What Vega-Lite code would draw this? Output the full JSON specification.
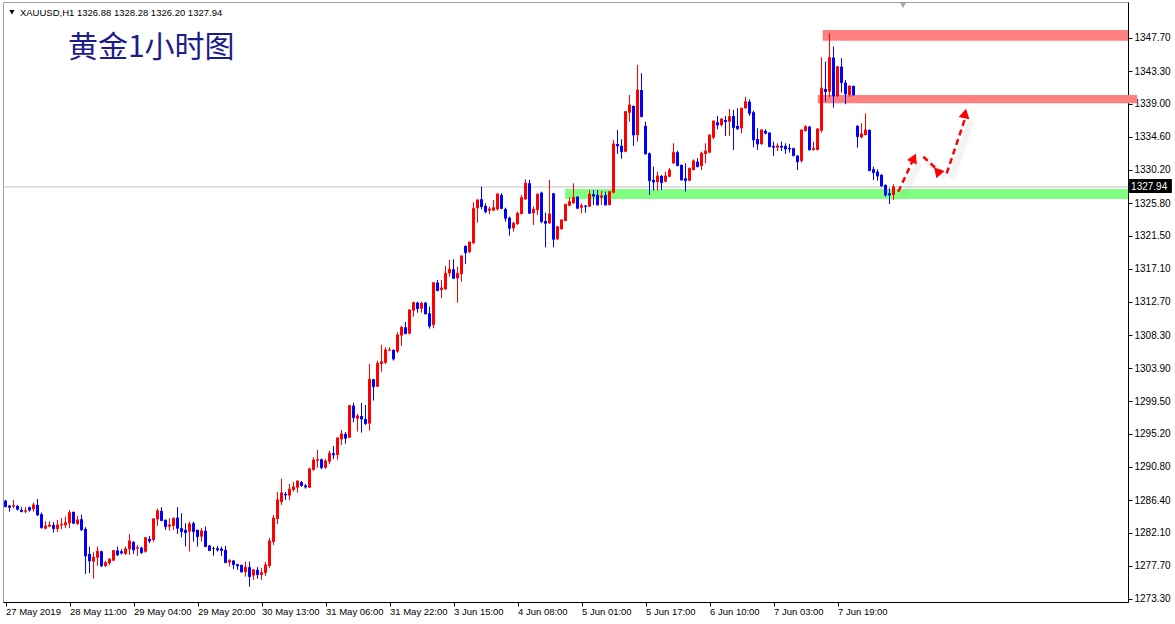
{
"$schema": "https://vega.github.io/schema/vega-lite/v6.json",
"width": 1125, "height": 600,
"autosize": {"type": "none"},
"padding": {"left": 3, "top": 2, "right": 47, "bottom": 22},
"background": "#ffffff",
"config": {"view": {"stroke": "#a0a0a0", "strokeWidth": 1}, "scale": {"continuousPadding": 0}, "axis": {"labelFont": "Liberation Sans", "labelColor": "#000000", "domainColor": "#000000", "tickColor": "#000000", "grid": false, "labelOverlap": false, "labelFlush": false}},
"datasets": {
"zones": [
{"kind": "r", "i1": 204.3, "i2": 280.625, "p1": 1347.34, "p2": 1348.76},
{"kind": "r", "i1": 203.05, "i2": 282.9, "p1": 1339.04, "p2": 1340.14},
{"kind": "g", "i1": 139.9, "i2": 280.625, "p1": 1326.34, "p2": 1327.67}
],
"arrows": [
{"seg": 1, "pt": "start", "i": 223.2, "p": 1327.31}, {"seg": 1, "pt": "end", "i": 227.1, "p": 1331.78},
{"seg": 2, "pt": "start", "i": 229.45, "p": 1331.95}, {"seg": 2, "pt": "end", "i": 233.6, "p": 1329.92},
{"seg": 3, "pt": "start", "i": 235.3, "p": 1329.75}, {"seg": 3, "pt": "end", "i": 240.1, "p": 1337.35}
],
"candles": [
{"i":0,"o":1286.34,"h":1286.43,"l":1285.46,"c":1285.54},
{"i":1,"o":1285.67,"h":1285.77,"l":1284.88,"c":1285.46},
{"i":2,"o":1285.54,"h":1286.43,"l":1285.33,"c":1285.67},
{"i":3,"o":1285.63,"h":1285.77,"l":1285.01,"c":1285.20},
{"i":4,"o":1285.10,"h":1285.46,"l":1284.80,"c":1284.88},
{"i":5,"o":1284.88,"h":1285.46,"l":1284.67,"c":1285.01},
{"i":6,"o":1285.46,"h":1285.54,"l":1284.88,"c":1285.10},
{"i":7,"o":1285.20,"h":1286.07,"l":1284.88,"c":1285.77},
{"i":8,"o":1285.77,"h":1286.56,"l":1284.31,"c":1284.44},
{"i":9,"o":1284.53,"h":1284.75,"l":1282.62,"c":1282.76},
{"i":10,"o":1282.62,"h":1283.61,"l":1282.54,"c":1282.98},
{"i":11,"o":1282.89,"h":1283.61,"l":1282.81,"c":1283.11},
{"i":12,"o":1283.11,"h":1283.48,"l":1282.09,"c":1282.62},
{"i":13,"o":1282.58,"h":1283.78,"l":1282.19,"c":1283.11},
{"i":14,"o":1283.07,"h":1284.00,"l":1282.54,"c":1283.21},
{"i":15,"o":1283.07,"h":1284.22,"l":1282.68,"c":1283.42},
{"i":16,"o":1283.34,"h":1285.10,"l":1282.68,"c":1284.75},
{"i":17,"o":1284.84,"h":1284.90,"l":1283.25,"c":1283.34},
{"i":18,"o":1283.25,"h":1284.31,"l":1283.11,"c":1283.78},
{"i":19,"o":1283.87,"h":1284.48,"l":1282.32,"c":1282.45},
{"i":20,"o":1282.58,"h":1282.81,"l":1276.62,"c":1279.00},
{"i":21,"o":1279.27,"h":1280.24,"l":1276.71,"c":1278.34},
{"i":22,"o":1278.25,"h":1279.49,"l":1275.99,"c":1278.83},
{"i":23,"o":1278.78,"h":1280.24,"l":1277.68,"c":1279.62},
{"i":24,"o":1279.62,"h":1279.70,"l":1277.51,"c":1277.68},
{"i":25,"o":1277.68,"h":1278.38,"l":1277.51,"c":1278.12},
{"i":26,"o":1278.04,"h":1278.70,"l":1277.81,"c":1278.57},
{"i":27,"o":1278.38,"h":1279.76,"l":1278.34,"c":1279.72},
{"i":28,"o":1279.72,"h":1280.24,"l":1279.00,"c":1279.14},
{"i":29,"o":1279.62,"h":1279.89,"l":1279.18,"c":1279.40},
{"i":30,"o":1279.27,"h":1280.24,"l":1279.14,"c":1279.93},
{"i":31,"o":1279.89,"h":1281.92,"l":1279.14,"c":1280.99},
{"i":32,"o":1280.86,"h":1280.95,"l":1279.27,"c":1279.80},
{"i":33,"o":1279.97,"h":1280.46,"l":1279.00,"c":1280.10},
{"i":34,"o":1280.10,"h":1280.24,"l":1279.27,"c":1279.44},
{"i":35,"o":1279.57,"h":1281.48,"l":1279.44,"c":1281.43},
{"i":36,"o":1281.26,"h":1281.66,"l":1280.69,"c":1280.99},
{"i":37,"o":1281.12,"h":1284.00,"l":1280.90,"c":1283.91},
{"i":38,"o":1283.87,"h":1285.28,"l":1282.98,"c":1284.97},
{"i":39,"o":1284.97,"h":1285.46,"l":1283.61,"c":1283.69},
{"i":40,"o":1283.78,"h":1283.85,"l":1282.45,"c":1282.89},
{"i":41,"o":1282.89,"h":1284.00,"l":1282.36,"c":1283.11},
{"i":42,"o":1282.98,"h":1284.08,"l":1282.45,"c":1284.00},
{"i":43,"o":1284.08,"h":1285.46,"l":1281.92,"c":1282.68},
{"i":44,"o":1282.68,"h":1284.67,"l":1281.48,"c":1282.23},
{"i":45,"o":1282.45,"h":1283.34,"l":1280.24,"c":1282.09},
{"i":46,"o":1282.23,"h":1283.56,"l":1279.57,"c":1283.25},
{"i":47,"o":1283.34,"h":1283.56,"l":1280.90,"c":1282.23},
{"i":48,"o":1282.45,"h":1282.50,"l":1280.24,"c":1281.56},
{"i":49,"o":1281.56,"h":1282.68,"l":1280.90,"c":1282.32},
{"i":50,"o":1282.32,"h":1282.89,"l":1280.16,"c":1280.24},
{"i":51,"o":1280.37,"h":1280.46,"l":1279.67,"c":1279.71},
{"i":52,"o":1279.97,"h":1280.24,"l":1279.04,"c":1279.97},
{"i":53,"o":1280.02,"h":1280.33,"l":1279.57,"c":1279.80},
{"i":54,"o":1279.97,"h":1280.24,"l":1279.00,"c":1279.71},
{"i":55,"o":1279.80,"h":1280.33,"l":1278.05,"c":1278.12},
{"i":56,"o":1278.12,"h":1278.57,"l":1277.59,"c":1278.38},
{"i":57,"o":1278.38,"h":1278.47,"l":1277.25,"c":1277.85},
{"i":58,"o":1277.91,"h":1277.95,"l":1277.15,"c":1277.68},
{"i":59,"o":1277.81,"h":1277.85,"l":1276.79,"c":1276.88},
{"i":60,"o":1276.88,"h":1278.25,"l":1276.26,"c":1277.51},
{"i":61,"o":1277.51,"h":1278.25,"l":1274.93,"c":1276.26},
{"i":62,"o":1276.40,"h":1277.25,"l":1275.82,"c":1277.15},
{"i":63,"o":1277.15,"h":1277.51,"l":1275.99,"c":1276.53},
{"i":64,"o":1276.48,"h":1277.38,"l":1275.82,"c":1276.79},
{"i":65,"o":1276.75,"h":1278.21,"l":1276.35,"c":1277.81},
{"i":66,"o":1277.68,"h":1281.39,"l":1277.41,"c":1280.99},
{"i":67,"o":1280.86,"h":1284.44,"l":1280.46,"c":1284.04},
{"i":68,"o":1283.91,"h":1287.49,"l":1283.25,"c":1286.43},
{"i":69,"o":1286.16,"h":1289.25,"l":1285.77,"c":1287.36},
{"i":70,"o":1287.22,"h":1287.49,"l":1286.43,"c":1287.09},
{"i":71,"o":1287.00,"h":1288.55,"l":1286.43,"c":1287.85},
{"i":72,"o":1287.76,"h":1288.82,"l":1287.53,"c":1288.15},
{"i":73,"o":1288.06,"h":1288.99,"l":1287.40,"c":1288.95},
{"i":74,"o":1288.78,"h":1288.95,"l":1288.19,"c":1288.33},
{"i":75,"o":1288.33,"h":1288.55,"l":1287.93,"c":1288.15},
{"i":76,"o":1288.06,"h":1290.71,"l":1288.02,"c":1290.54},
{"i":77,"o":1290.41,"h":1292.09,"l":1290.31,"c":1291.73},
{"i":78,"o":1291.64,"h":1293.06,"l":1290.71,"c":1291.77},
{"i":79,"o":1291.82,"h":1291.90,"l":1290.50,"c":1290.71},
{"i":80,"o":1290.71,"h":1291.82,"l":1290.54,"c":1291.60},
{"i":81,"o":1291.51,"h":1292.97,"l":1291.16,"c":1292.62},
{"i":82,"o":1292.62,"h":1293.59,"l":1291.82,"c":1292.40},
{"i":83,"o":1292.40,"h":1294.70,"l":1291.77,"c":1294.65},
{"i":84,"o":1294.48,"h":1295.71,"l":1293.72,"c":1295.18},
{"i":85,"o":1295.18,"h":1295.45,"l":1293.89,"c":1294.61},
{"i":86,"o":1294.69,"h":1299.03,"l":1294.65,"c":1298.93},
{"i":87,"o":1298.93,"h":1299.33,"l":1296.73,"c":1297.34},
{"i":88,"o":1297.21,"h":1297.83,"l":1295.49,"c":1297.57},
{"i":89,"o":1297.57,"h":1299.29,"l":1295.35,"c":1297.17},
{"i":90,"o":1297.17,"h":1299.03,"l":1296.38,"c":1296.55},
{"i":91,"o":1296.55,"h":1304.46,"l":1295.62,"c":1302.43},
{"i":92,"o":1302.43,"h":1302.50,"l":1299.60,"c":1301.45},
{"i":93,"o":1301.45,"h":1304.90,"l":1301.40,"c":1304.56},
{"i":94,"o":1304.46,"h":1306.98,"l":1303.44,"c":1304.77},
{"i":95,"o":1304.63,"h":1306.68,"l":1304.46,"c":1306.32},
{"i":96,"o":1306.23,"h":1306.68,"l":1306.18,"c":1306.32},
{"i":97,"o":1306.32,"h":1306.40,"l":1304.90,"c":1305.13},
{"i":98,"o":1306.09,"h":1308.67,"l":1305.96,"c":1308.31},
{"i":99,"o":1308.22,"h":1309.51,"l":1306.85,"c":1309.33},
{"i":100,"o":1309.33,"h":1310.03,"l":1308.40,"c":1308.49},
{"i":101,"o":1308.49,"h":1311.70,"l":1308.40,"c":1311.63},
{"i":102,"o":1311.53,"h":1312.73,"l":1310.74,"c":1312.59},
{"i":103,"o":1312.59,"h":1312.73,"l":1311.27,"c":1311.80},
{"i":104,"o":1311.80,"h":1312.73,"l":1311.27,"c":1312.51},
{"i":105,"o":1312.59,"h":1312.69,"l":1311.05,"c":1311.10},
{"i":106,"o":1311.19,"h":1312.06,"l":1309.15,"c":1309.50},
{"i":107,"o":1309.64,"h":1315.30,"l":1309.20,"c":1315.25},
{"i":108,"o":1315.25,"h":1315.60,"l":1314.10,"c":1314.19},
{"i":109,"o":1314.28,"h":1315.60,"l":1313.18,"c":1314.54},
{"i":110,"o":1314.37,"h":1317.46,"l":1314.30,"c":1316.49},
{"i":111,"o":1316.49,"h":1318.26,"l":1316.04,"c":1317.02},
{"i":112,"o":1317.02,"h":1318.35,"l":1315.78,"c":1315.83},
{"i":113,"o":1315.83,"h":1317.37,"l":1312.59,"c":1316.49},
{"i":114,"o":1316.40,"h":1318.85,"l":1315.38,"c":1318.79},
{"i":115,"o":1320.11,"h":1320.20,"l":1317.73,"c":1319.22},
{"i":116,"o":1319.32,"h":1320.70,"l":1319.15,"c":1320.64},
{"i":117,"o":1320.47,"h":1325.91,"l":1320.40,"c":1325.11},
{"i":118,"o":1325.11,"h":1326.31,"l":1323.20,"c":1326.21},
{"i":119,"o":1326.31,"h":1327.98,"l":1324.98,"c":1325.33},
{"i":120,"o":1325.42,"h":1325.78,"l":1324.45,"c":1324.66},
{"i":121,"o":1324.80,"h":1325.33,"l":1324.32,"c":1325.02},
{"i":122,"o":1324.80,"h":1326.21,"l":1324.76,"c":1325.19},
{"i":123,"o":1324.98,"h":1327.10,"l":1324.80,"c":1327.01},
{"i":124,"o":1326.88,"h":1327.10,"l":1324.98,"c":1325.11},
{"i":125,"o":1325.02,"h":1325.19,"l":1323.34,"c":1323.79},
{"i":126,"o":1323.87,"h":1324.00,"l":1321.48,"c":1322.46},
{"i":127,"o":1322.46,"h":1323.34,"l":1322.01,"c":1323.12},
{"i":128,"o":1323.03,"h":1324.66,"l":1322.90,"c":1324.45},
{"i":129,"o":1324.36,"h":1326.88,"l":1324.30,"c":1326.52},
{"i":130,"o":1326.31,"h":1328.96,"l":1326.21,"c":1328.43},
{"i":131,"o":1328.43,"h":1328.87,"l":1324.40,"c":1324.45},
{"i":132,"o":1324.45,"h":1325.33,"l":1322.90,"c":1324.98},
{"i":133,"o":1324.89,"h":1327.10,"l":1324.23,"c":1326.97},
{"i":134,"o":1327.18,"h":1327.32,"l":1323.12,"c":1323.34},
{"i":135,"o":1323.43,"h":1324.53,"l":1319.94,"c":1323.12},
{"i":136,"o":1323.12,"h":1328.87,"l":1323.05,"c":1324.36},
{"i":137,"o":1327.10,"h":1327.15,"l":1319.94,"c":1321.00},
{"i":138,"o":1321.00,"h":1322.72,"l":1320.91,"c":1322.67},
{"i":139,"o":1322.33,"h":1323.65,"l":1322.28,"c":1323.56},
{"i":140,"o":1323.43,"h":1325.70,"l":1323.38,"c":1325.65},
{"i":141,"o":1325.46,"h":1326.57,"l":1325.40,"c":1325.99},
{"i":142,"o":1325.78,"h":1328.43,"l":1325.72,"c":1326.52},
{"i":143,"o":1326.65,"h":1326.70,"l":1325.05,"c":1325.11},
{"i":144,"o":1325.19,"h":1325.78,"l":1324.45,"c":1325.46},
{"i":145,"o":1325.46,"h":1325.55,"l":1324.53,"c":1325.33},
{"i":146,"o":1325.33,"h":1327.54,"l":1325.28,"c":1326.97},
{"i":147,"o":1326.97,"h":1327.54,"l":1325.55,"c":1326.75},
{"i":148,"o":1326.88,"h":1327.54,"l":1325.50,"c":1325.55},
{"i":149,"o":1326.52,"h":1327.41,"l":1325.55,"c":1326.75},
{"i":150,"o":1326.84,"h":1327.32,"l":1325.50,"c":1325.55},
{"i":151,"o":1325.55,"h":1327.40,"l":1325.50,"c":1327.32},
{"i":152,"o":1327.18,"h":1334.17,"l":1327.10,"c":1333.64},
{"i":153,"o":1333.64,"h":1335.50,"l":1332.32,"c":1333.38},
{"i":154,"o":1333.38,"h":1334.27,"l":1331.69,"c":1332.62},
{"i":155,"o":1332.62,"h":1338.00,"l":1332.55,"c":1337.93},
{"i":156,"o":1337.79,"h":1340.14,"l":1336.60,"c":1338.81},
{"i":157,"o":1338.68,"h":1338.75,"l":1333.38,"c":1334.83},
{"i":158,"o":1334.83,"h":1344.12,"l":1333.95,"c":1340.80},
{"i":159,"o":1340.80,"h":1343.02,"l":1337.20,"c":1337.26},
{"i":160,"o":1336.03,"h":1336.60,"l":1332.25,"c":1332.32},
{"i":161,"o":1332.41,"h":1332.50,"l":1326.88,"c":1328.77},
{"i":162,"o":1328.87,"h":1330.63,"l":1327.45,"c":1328.60},
{"i":163,"o":1328.60,"h":1329.97,"l":1327.45,"c":1329.40},
{"i":164,"o":1329.40,"h":1329.53,"l":1327.54,"c":1328.51},
{"i":165,"o":1328.64,"h":1329.97,"l":1328.58,"c":1329.40},
{"i":166,"o":1329.30,"h":1330.42,"l":1329.25,"c":1330.19},
{"i":167,"o":1331.08,"h":1333.73,"l":1331.00,"c":1332.54},
{"i":168,"o":1332.54,"h":1332.75,"l":1330.70,"c":1330.76},
{"i":169,"o":1330.86,"h":1330.92,"l":1328.80,"c":1328.87},
{"i":170,"o":1329.09,"h":1331.08,"l":1327.32,"c":1328.77},
{"i":171,"o":1328.77,"h":1330.50,"l":1328.70,"c":1330.42},
{"i":172,"o":1330.19,"h":1331.61,"l":1330.12,"c":1331.39},
{"i":173,"o":1331.29,"h":1331.75,"l":1330.55,"c":1330.63},
{"i":174,"o":1330.72,"h":1332.62,"l":1330.19,"c":1332.41},
{"i":175,"o":1332.32,"h":1333.73,"l":1331.08,"c":1332.71},
{"i":176,"o":1332.49,"h":1334.90,"l":1332.42,"c":1334.83},
{"i":177,"o":1334.48,"h":1336.75,"l":1334.27,"c":1336.69},
{"i":178,"o":1336.52,"h":1337.35,"l":1335.59,"c":1336.16},
{"i":179,"o":1336.16,"h":1337.05,"l":1335.94,"c":1336.96},
{"i":180,"o":1336.82,"h":1337.35,"l":1334.70,"c":1336.60},
{"i":181,"o":1336.60,"h":1338.28,"l":1334.70,"c":1337.26},
{"i":182,"o":1337.35,"h":1338.15,"l":1332.85,"c":1335.80},
{"i":183,"o":1336.03,"h":1338.38,"l":1335.50,"c":1335.67},
{"i":184,"o":1335.72,"h":1338.45,"l":1335.06,"c":1338.38},
{"i":185,"o":1338.38,"h":1339.91,"l":1338.30,"c":1339.25},
{"i":186,"o":1339.25,"h":1339.57,"l":1337.35,"c":1337.71},
{"i":187,"o":1337.85,"h":1338.06,"l":1333.20,"c":1334.17},
{"i":188,"o":1334.30,"h":1335.72,"l":1332.85,"c":1333.64},
{"i":189,"o":1333.64,"h":1335.59,"l":1333.51,"c":1335.50},
{"i":190,"o":1335.37,"h":1335.59,"l":1334.93,"c":1335.06},
{"i":191,"o":1335.14,"h":1335.20,"l":1333.20,"c":1333.28},
{"i":192,"o":1333.38,"h":1333.95,"l":1332.05,"c":1333.21},
{"i":193,"o":1333.15,"h":1333.73,"l":1332.71,"c":1333.38},
{"i":194,"o":1333.38,"h":1333.95,"l":1332.71,"c":1333.21},
{"i":195,"o":1333.38,"h":1333.73,"l":1332.32,"c":1332.98},
{"i":196,"o":1333.11,"h":1333.64,"l":1332.49,"c":1332.98},
{"i":197,"o":1333.07,"h":1333.15,"l":1332.00,"c":1332.09},
{"i":198,"o":1332.09,"h":1332.15,"l":1330.19,"c":1331.29},
{"i":199,"o":1331.39,"h":1335.55,"l":1331.16,"c":1335.50},
{"i":200,"o":1335.37,"h":1336.12,"l":1335.30,"c":1335.94},
{"i":201,"o":1335.94,"h":1336.03,"l":1332.80,"c":1332.85},
{"i":202,"o":1332.85,"h":1333.95,"l":1332.75,"c":1333.07},
{"i":203,"o":1332.85,"h":1335.72,"l":1332.78,"c":1335.63},
{"i":204,"o":1335.41,"h":1345.14,"l":1335.14,"c":1341.03},
{"i":205,"o":1340.94,"h":1344.56,"l":1339.25,"c":1340.58},
{"i":206,"o":1340.58,"h":1348.32,"l":1339.84,"c":1345.09},
{"i":207,"o":1345.09,"h":1346.55,"l":1338.46,"c":1340.01},
{"i":208,"o":1340.01,"h":1343.95,"l":1339.84,"c":1343.89},
{"i":209,"o":1343.89,"h":1345.01,"l":1340.45,"c":1341.77},
{"i":210,"o":1341.77,"h":1342.13,"l":1338.91,"c":1340.27},
{"i":211,"o":1340.14,"h":1341.40,"l":1339.91,"c":1341.33},
{"i":212,"o":1341.33,"h":1341.40,"l":1340.08,"c":1340.14},
{"i":213,"o":1336.03,"h":1336.16,"l":1333.15,"c":1334.61},
{"i":214,"o":1334.53,"h":1336.39,"l":1334.40,"c":1334.97},
{"i":215,"o":1334.83,"h":1337.71,"l":1334.78,"c":1335.50},
{"i":216,"o":1335.50,"h":1335.56,"l":1330.04,"c":1330.10},
{"i":217,"o":1330.29,"h":1330.63,"l":1328.87,"c":1329.84},
{"i":218,"o":1329.97,"h":1330.29,"l":1328.77,"c":1329.40},
{"i":219,"o":1329.53,"h":1329.66,"l":1327.98,"c":1328.07},
{"i":220,"o":1328.21,"h":1328.28,"l":1326.65,"c":1326.88},
{"i":221,"o":1327.10,"h":1327.77,"l":1325.68,"c":1326.88},
{"i":222,"o":1326.88,"h":1328.28,"l":1326.20,"c":1327.94}
]
},
"layer": [
{"data": {"name": "zones"}, "mark": {"type": "rect"},
 "encoding": {
  "x": {"field": "i1", "type": "quantitative", "title": null, "scale": {"domain": [-0.625, 280.625], "nice": false, "zero": false, "padding": 0}},
  "x2": {"field": "i2"},
  "y": {"field": "p1", "type": "quantitative", "title": null, "scale": {"domain": [1272.89, 1352.47], "nice": false, "zero": false}},
  "y2": {"field": "p2"},
  "color": {"field": "kind", "type": "nominal", "scale": {"domain": ["r", "g"], "range": ["#ff8080", "#80ff80"]}, "legend": null}}},
{"data": {"values": [{}]}, "mark": {"type": "rule", "color": "#c0c0c0", "strokeWidth": 1},
 "encoding": {"y": {"datum": 1327.94, "type": "quantitative", "title": null, "scale": {"domain": [1272.89, 1352.47], "nice": false, "zero": false}}}},
{"data": {"name": "candles"}, "mark": {"type": "rule", "strokeWidth": 1},
 "encoding": {
  "x": {"field": "i", "type": "quantitative", "title": null, "scale": {"domain": [-0.625, 280.625], "nice": false, "zero": false, "padding": 0},
        "axis": {"orient": "bottom", "title": null, "values": [0,16,32,48,64,80,96,112,128,144,160,176,192,208], "tickCount": 100,
                 "labelExpr": "datum.value == 0 ? '27 May 2019' : datum.value == 16 ? '28 May 11:00' : datum.value == 32 ? '29 May 04:00' : datum.value == 48 ? '29 May 20:00' : datum.value == 64 ? '30 May 13:00' : datum.value == 80 ? '31 May 06:00' : datum.value == 96 ? '31 May 22:00' : datum.value == 112 ? '3 Jun 15:00' : datum.value == 128 ? '4 Jun 08:00' : datum.value == 144 ? '5 Jun 01:00' : datum.value == 160 ? '5 Jun 17:00' : datum.value == 176 ? '6 Jun 10:00' : datum.value == 192 ? '7 Jun 03:00' : '7 Jun 19:00'",
                 "labelAlign": "left", "labelFontSize": 9.5, "tickSize": 4, "labelPadding": 0, "labelOverlap": false, "labelFlush": false, "labelBound": false}},
  "y": {"field": "l", "type": "quantitative", "title": null, "scale": {"domain": [1272.89, 1352.47], "nice": false, "zero": false},
        "axis": {"orient": "right", "title": null, "values": [1273.3,1277.7,1282.1,1286.4,1290.8,1295.2,1299.5,1303.9,1308.3,1312.7,1317.1,1321.5,1325.8,1330.2,1334.6,1339.0,1343.3,1347.7], "tickCount": 100,
                 "format": ".2f", "labelFontSize": 10, "tickSize": 4, "labelPadding": 2, "labelOverlap": false, "labelFlush": false}},
  "y2": {"field": "h"},
  "color": {"condition": [{"test": "datum.c > datum.o", "value": "#ff0000"}, {"test": "datum.c < datum.o", "value": "#0000ff"}], "value": "#000000"}}},
{"data": {"name": "candles"}, "mark": {"type": "bar", "width": 3},
 "encoding": {
  "x": {"field": "i", "type": "quantitative", "title": null, "scale": {"domain": [-0.625, 280.625], "nice": false, "zero": false, "padding": 0}},
  "y": {"field": "o", "type": "quantitative", "title": null, "scale": {"domain": [1272.89, 1352.47], "nice": false, "zero": false}},
  "y2": {"field": "c"},
  "color": {"condition": [{"test": "datum.c > datum.o", "value": "#ff0000"}, {"test": "datum.c < datum.o", "value": "#0000ff"}], "value": "#000000"}}},
{"data": {"name": "candles"}, "mark": {"type": "tick", "orient": "horizontal", "thickness": 1, "size": 3},
 "encoding": {
  "x": {"field": "i", "type": "quantitative", "title": null, "scale": {"domain": [-0.625, 280.625], "nice": false, "zero": false, "padding": 0}},
  "y": {"field": "c", "type": "quantitative", "title": null, "scale": {"domain": [1272.89, 1352.47], "nice": false, "zero": false}},
  "color": {"condition": [{"test": "datum.c > datum.o", "value": "#ff0000"}, {"test": "datum.c < datum.o", "value": "#0000ff"}], "value": "#000000"}}},
{"data": {"name": "arrows"}, "mark": {"type": "line", "xOffset": 5, "yOffset": 5, "strokeWidth": 7, "color": "#999999", "opacity": 0.12},
 "encoding": {
  "x": {"field": "i", "type": "quantitative", "title": null, "scale": {"domain": [-0.625, 280.625], "nice": false, "zero": false, "padding": 0}},
  "y": {"field": "p", "type": "quantitative", "title": null, "scale": {"domain": [1272.89, 1352.47], "nice": false, "zero": false}},
  "detail": {"field": "seg", "type": "nominal"}}},
{"data": {"name": "arrows"}, "mark": {"type": "line", "strokeWidth": 2.5, "strokeDash": [6, 4], "color": "#ff0000"},
 "encoding": {
  "x": {"field": "i", "type": "quantitative", "title": null, "scale": {"domain": [-0.625, 280.625], "nice": false, "zero": false, "padding": 0}},
  "y": {"field": "p", "type": "quantitative", "title": null, "scale": {"domain": [1272.89, 1352.47], "nice": false, "zero": false}},
  "detail": {"field": "seg", "type": "nominal"}}},
{"data": {"name": "arrows"}, "transform": [{"filter": "datum.pt == 'end'"}],
 "mark": {"type": "point", "shape": "triangle-up", "filled": true, "color": "#ff0000", "size": 120, "opacity": 1},
 "encoding": {
  "x": {"field": "i", "type": "quantitative", "title": null, "scale": {"domain": [-0.625, 280.625], "nice": false, "zero": false, "padding": 0}},
  "y": {"field": "p", "type": "quantitative", "title": null, "scale": {"domain": [1272.89, 1352.47], "nice": false, "zero": false}},
  "angle": {"field": "seg", "type": "nominal", "scale": {"domain": [1, 2, 3], "range": [25, 132, 20]}, "legend": null}}},
{"data": {"values": [{}]}, "mark": {"type": "rect", "color": "#000000"},
 "encoding": {
  "x": {"datum": 280.9, "type": "quantitative", "title": null, "scale": {"domain": [-0.625, 280.625], "nice": false, "zero": false, "padding": 0}},
  "x2": {"datum": 291.6},
  "y": {"datum": 1328.99, "type": "quantitative", "title": null, "scale": {"domain": [1272.89, 1352.47], "nice": false, "zero": false}},
  "y2": {"datum": 1327.14}}},
{"data": {"values": [{}]}, "mark": {"type": "text", "align": "left", "baseline": "middle", "color": "#ffffff", "font": "Liberation Sans", "fontSize": 10},
 "encoding": {
  "x": {"datum": 281.4, "type": "quantitative", "title": null, "scale": {"domain": [-0.625, 280.625], "nice": false, "zero": false, "padding": 0}},
  "y": {"datum": 1327.94, "type": "quantitative", "title": null, "scale": {"domain": [1272.89, 1352.47], "nice": false, "zero": false}},
  "text": {"value": "1327.94"}}},
{"data": {"values": [{}]}, "mark": {"type": "text", "align": "left", "baseline": "middle", "color": "#000000", "font": "Liberation Sans", "fontSize": 9.5},
 "encoding": {
  "x": {"datum": 3.6, "type": "quantitative", "title": null, "scale": {"domain": [-0.625, 280.625], "nice": false, "zero": false, "padding": 0}},
  "y": {"datum": 1351.05, "type": "quantitative", "title": null, "scale": {"domain": [1272.89, 1352.47], "nice": false, "zero": false}},
  "text": {"value": "XAUUSD,H1  1326.88 1328.28 1326.20 1327.94"}}},
{"data": {"values": [{}]}, "mark": {"type": "point", "shape": "triangle-down", "filled": true, "color": "#000000", "size": 28, "opacity": 1},
 "encoding": {
  "x": {"datum": 1.6, "type": "quantitative", "title": null, "scale": {"domain": [-0.625, 280.625], "nice": false, "zero": false, "padding": 0}},
  "y": {"datum": 1351.1, "type": "quantitative", "title": null, "scale": {"domain": [1272.89, 1352.47], "nice": false, "zero": false}}}},
{"data": {"values": [{}]}, "mark": {"type": "point", "shape": "triangle-down", "filled": true, "color": "#a8a8a8", "size": 45, "opacity": 1},
 "encoding": {
  "x": {"datum": 224.4, "type": "quantitative", "title": null, "scale": {"domain": [-0.625, 280.625], "nice": false, "zero": false, "padding": 0}},
  "y": {"datum": 1352.05, "type": "quantitative", "title": null, "scale": {"domain": [1272.89, 1352.47], "nice": false, "zero": false}}}},
{"data": {"values": [{}]}, "mark": {"type": "text", "align": "left", "baseline": "middle", "color": "#1c1c8c", "font": "Noto Sans CJK SC", "fontSize": 30, "fontWeight": "normal"},
 "encoding": {
  "x": {"datum": 15.6, "type": "quantitative", "title": null, "scale": {"domain": [-0.625, 280.625], "nice": false, "zero": false, "padding": 0}},
  "y": {"datum": 1346.37, "type": "quantitative", "title": null, "scale": {"domain": [1272.89, 1352.47], "nice": false, "zero": false}},
  "text": {"value": "黄金1小时图"}}}
]
}
